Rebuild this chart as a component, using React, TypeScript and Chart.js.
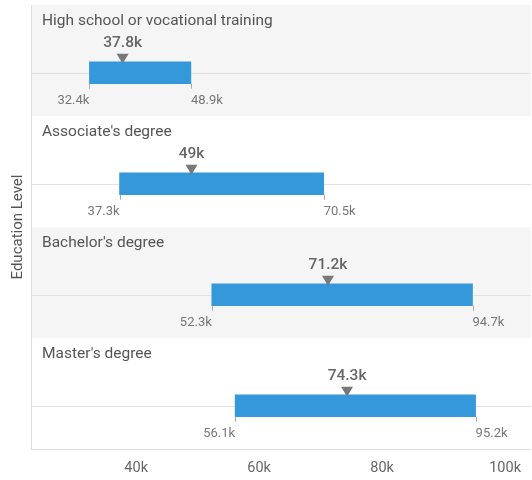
import React, { useEffect, useRef } from "react";
import { Chart, registerables } from "chart.js";

Chart.register(...registerables);

const CATEGORIES = [
  "High school or vocational training",
  "Associate's degree",
  "Bachelor's degree",
  "Master's degree",
];
const LOWS = [32.4, 37.3, 52.3, 56.1];
const HIGHS = [48.9, 70.5, 94.7, 95.2];
const TARGETS = [37.8, 49, 71.2, 74.3];
const X_TICKS = [40, 60, 80, 100];
const AXIS_TITLE = "Education Level";

const BAR_OFFSET = 0.11;
const FONT = "Roboto, 'Noto Sans', sans-serif";
const fmt = (v: number) => `${v}k`;

const rowsPlugin = {
  id: "rows",
  beforeDraw(chart: any) {
    const { ctx, chartArea: a, scales } = chart;
    const y = scales.y;
    ctx.save();
    CATEGORIES.forEach((c, i) => {
      const t = y.getPixelForValue(i - 0.5);
      const b = y.getPixelForValue(i + 0.5);
      if (i % 2 === 0) {
        ctx.fillStyle = "#f5f5f5";
        ctx.fillRect(a.left, t, a.right - a.left, b - t);
      }
      const ly = Math.round(y.getPixelForValue(i + BAR_OFFSET)) + 0.5;
      ctx.strokeStyle = "#e2e2e2";
      ctx.lineWidth = 1;
      ctx.beginPath();
      ctx.moveTo(a.left, ly);
      ctx.lineTo(a.right, ly);
      ctx.stroke();
      ctx.fillStyle = "#555";
      ctx.font = `15.5px ${FONT}`;
      ctx.textAlign = "left";
      ctx.textBaseline = "middle";
      ctx.fillText(c, a.left + 11, t + 16);
    });
    ctx.restore();
  },
  afterDatasetsDraw(chart: any) {
    const { ctx, scales } = chart;
    const x = scales.x;
    const y = scales.y;
    const meta = chart.getDatasetMeta(0);
    ctx.save();
    CATEGORIES.forEach((_, i) => {
      const bar = meta.data[i];
      const { height } = bar.getProps(["height"], true);
      const cy = y.getPixelForValue(i + BAR_OFFSET);
      const top = cy - height / 2;
      const bottom = cy + height / 2;
      // target marker
      const tx = x.getPixelForValue(TARGETS[i]);
      ctx.fillStyle = "#787878";
      ctx.beginPath();
      ctx.moveTo(tx - 6, top - 8);
      ctx.lineTo(tx + 6, top - 8);
      ctx.lineTo(tx, top + 2);
      ctx.closePath();
      ctx.fill();
      ctx.fillStyle = "#666";
      ctx.font = `500 15.5px ${FONT}`;
      ctx.textAlign = "center";
      ctx.textBaseline = "middle";
      ctx.fillText(fmt(TARGETS[i]), tx, top - 19);
      // end ticks and labels
      const lx = x.getPixelForValue(LOWS[i]);
      const hx = x.getPixelForValue(HIGHS[i]);
      ctx.strokeStyle = "#aaa";
      ctx.lineWidth = 1;
      [lx, hx].forEach((px) => {
        const p = Math.round(px) + 0.5;
        ctx.beginPath();
        ctx.moveTo(p, bottom);
        ctx.lineTo(p, bottom + 5);
        ctx.stroke();
      });
      ctx.fillStyle = "#777";
      ctx.font = `13px ${FONT}`;
      ctx.textBaseline = "middle";
      ctx.textAlign = "right";
      ctx.fillText(fmt(LOWS[i]), lx, bottom + 17);
      ctx.textAlign = "left";
      ctx.fillText(fmt(HIGHS[i]), hx, bottom + 17);
    });
    ctx.restore();
  },
};

export default function App() {
  const ref = useRef<HTMLCanvasElement | null>(null);
  useEffect(() => {
    if (!ref.current) return;
    const chart = new Chart(ref.current, {
      type: "bar",
      data: {
        datasets: [
          {
            data: CATEGORIES.map((_, i) => ({
              x: [LOWS[i], HIGHS[i]],
              y: i + BAR_OFFSET,
            })) as any,
            backgroundColor: "#3498db",
            borderWidth: 0,
            barThickness: 22,
          },
        ],
      },
      options: {
        indexAxis: "y",
        animation: false,
        responsive: false,
        layout: { padding: { top: 5, right: 0, left: 0, bottom: 0 } },
        plugins: { legend: { display: false }, tooltip: { enabled: false } },
        scales: {
          x: {
            type: "linear",
            min: 22.9,
            max: 104.2,
            grid: { display: false, drawTicks: false },
            border: { display: true, color: "#dddddd" },
            afterBuildTicks: (axis: any) => {
              axis.ticks = X_TICKS.map((v) => ({ value: v }));
            },
            afterFit: (s: any) => {
              s.height = 31;
            },
            ticks: {
              padding: 11,
              color: "#666",
              font: { family: FONT, size: 14.5 },
              maxRotation: 0,
              autoSkip: false,
              callback: (v: any) => fmt(Number(v)),
            },
          },
          y: {
            type: "linear",
            min: -0.5,
            max: 3.5,
            reverse: true,
            offset: false,
            grid: { display: false, drawTicks: false, offset: false },
            border: { display: true, color: "#dddddd" },
            ticks: { display: false },
            afterFit: (s: any) => {
              s.width = 31;
            },
            title: {
              display: true,
              text: AXIS_TITLE,
              color: "#555",
              font: { family: FONT, size: 15 },
              padding: { top: 9, bottom: 0 },
            },
          },
        },
      } as any,
      plugins: [rowsPlugin],
    });
    return () => chart.destroy();
  }, []);
  return (
    <div style={{ position: "fixed", left: 0, top: 0, width: 532, height: 480, background: "#fff" }}>
      <canvas ref={ref} width={532} height={480} style={{ display: "block" }} />
    </div>
  );
}
